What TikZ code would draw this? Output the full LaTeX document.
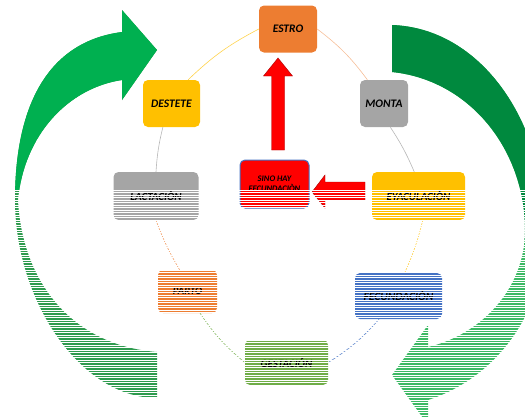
\documentclass[tikz,border=0pt]{standalone}
\usepackage{fontspec}
\setmainfont{Carlito}
\begin{document}
\begin{tikzpicture}[x=1pt,y=-1pt,
  stage/.style={rectangle, rounded corners=5pt, inner sep=0pt, align=center,
                font=\bfseries\itshape\fontsize{11.5}{13}\selectfont, text=black},
  link/.style={line width=0.6pt},
  bigred/.style={fill=red, draw=red!65!black, line width=0.4pt}]
\useasboundingbox (0,0) rectangle (525,416);

% colours
\definecolor{gLeftTop}{RGB}{0,176,80}
\definecolor{gLeftBot}{RGB}{46,155,78}
\definecolor{gRightTop}{RGB}{0,137,62}
\definecolor{gRightBot}{RGB}{60,185,100}
\definecolor{cOrange}{RGB}{237,125,49}
\definecolor{cGold}{RGB}{255,192,0}
\definecolor{cGrey}{RGB}{165,165,165}
\definecolor{cBlue}{RGB}{68,114,196}
\definecolor{cGreen}{RGB}{112,173,71}

% left curved arrow
\def\leftarrowpath{(157,398) .. controls (80,398) and (15,300) .. (15,200)
   .. controls (15,110) and (45,42) .. (122,32) -- (122,10) -- (157,50) -- (122,100) -- (122,80)
   .. controls (68,88) and (24,135) .. (18,200)
   .. controls (22,280) and (70,345) .. (157,352) -- cycle}
\fill[gLeftBot] \leftarrowpath;
\begin{scope}
  \clip (0,0) rectangle (525,190);
  \fill[gLeftTop] \leftarrowpath;
\end{scope}

% right curved arrow
\def\rightarrowpath{(392,25) .. controls (480,28) and (545,120) .. (545,230)
   .. controls (545,320) and (490,380) .. (428,400) -- (428,425) -- (392,375) -- (428,325) -- (428,347)
   .. controls (480,335) and (525,290) .. (525,230)
   .. controls (525,150) and (470,80) .. (392,72) -- cycle}
\fill[gRightBot] \rightarrowpath;
\begin{scope}
  \clip (0,0) rectangle (525,240);
  \fill[gRightTop] \rightarrowpath;
\end{scope}

% stages of the cycle
\node[stage, fill=cOrange, minimum width=58pt, minimum height=47pt] (estro) at (288,29) {ESTRO};
\node[stage, fill=cGold, minimum width=57pt, minimum height=47pt] (destete) at (171.5,103.5) {DESTETE};
\node[stage, fill=cGrey, minimum width=48pt, minimum height=47pt] (monta) at (384,103.5) {MONTA};
\node[stage, fill=cGrey, minimum width=85pt, minimum height=48pt, font=\bfseries\itshape\fontsize{11}{13}\selectfont] (lact) at (156,196) {LACTACIÒN};
\node[stage, fill=red, draw=cBlue, line width=1pt, minimum width=69pt, minimum height=48pt, font=\bfseries\itshape\fontsize{8.5}{10}\selectfont] (sino) at (274.5,184) {SINO HAY\\FECUNDACIÒN};
\node[stage, fill=cGold, minimum width=93pt, minimum height=48pt, font=\bfseries\itshape\fontsize{11}{13}\selectfont] (eyac) at (418.5,196) {EYACULACIÒN};
\node[stage, fill=cOrange, minimum width=59pt, minimum height=43pt, font=\bfseries\itshape\fontsize{10.5}{12}\selectfont] (parto) at (187.5,291.5) {PARTO};
\node[stage, fill=cBlue, minimum width=87pt, minimum height=46pt] (fecund) at (398.5,296) {FECUNDACIÒN};
\node[stage, fill=cGreen, minimum width=83pt, minimum height=45pt, font=\bfseries\itshape\fontsize{11}{13}\selectfont] (gest) at (286.5,362.5) {GESTACIÓN};

% ring connectors
\draw[link, cGold!70] (estro.west) to[bend right=8] (destete.55);
\draw[link, cOrange!50] (estro.east) to[bend left=8] (monta.125);
\draw[link, cGrey!80] (monta.-75) to[bend left=5] (eyac.100);
\draw[link, cGrey!80] (destete.-110) to[bend right=5] (lact.90);
\draw[link, cOrange!70] (lact.-90) to[bend right=5] (parto.110);
\draw[link, cGreen!80] (parto.-60) to[bend right=8] (gest.west);
\draw[link, cBlue!80] (gest.east) to[bend right=8] (fecund.-130);
\draw[link, cGold!70] (fecund.75) to[bend right=5] (eyac.-80);

% red arrows
\coordinate (vtip) at (278,58);
\fill[bigred] (vtip) -- (292.5,76) -- (284.5,76) -- (284.5,150) -- (271.5,150) -- (271.5,76) -- (263.5,76) -- cycle;
\coordinate (htip) at (312,192);
\fill[bigred] (htip) -- (325,175) -- (325,182) -- (365,182) -- (365,200) -- (325,200) -- (325,208) -- cycle;

% horizontal banding of the lower half
\foreach \yy in {190,192.5,...,416}
  \draw[white, line width=1pt] (0,\yy) -- (525,\yy);
\end{tikzpicture}
\end{document}
